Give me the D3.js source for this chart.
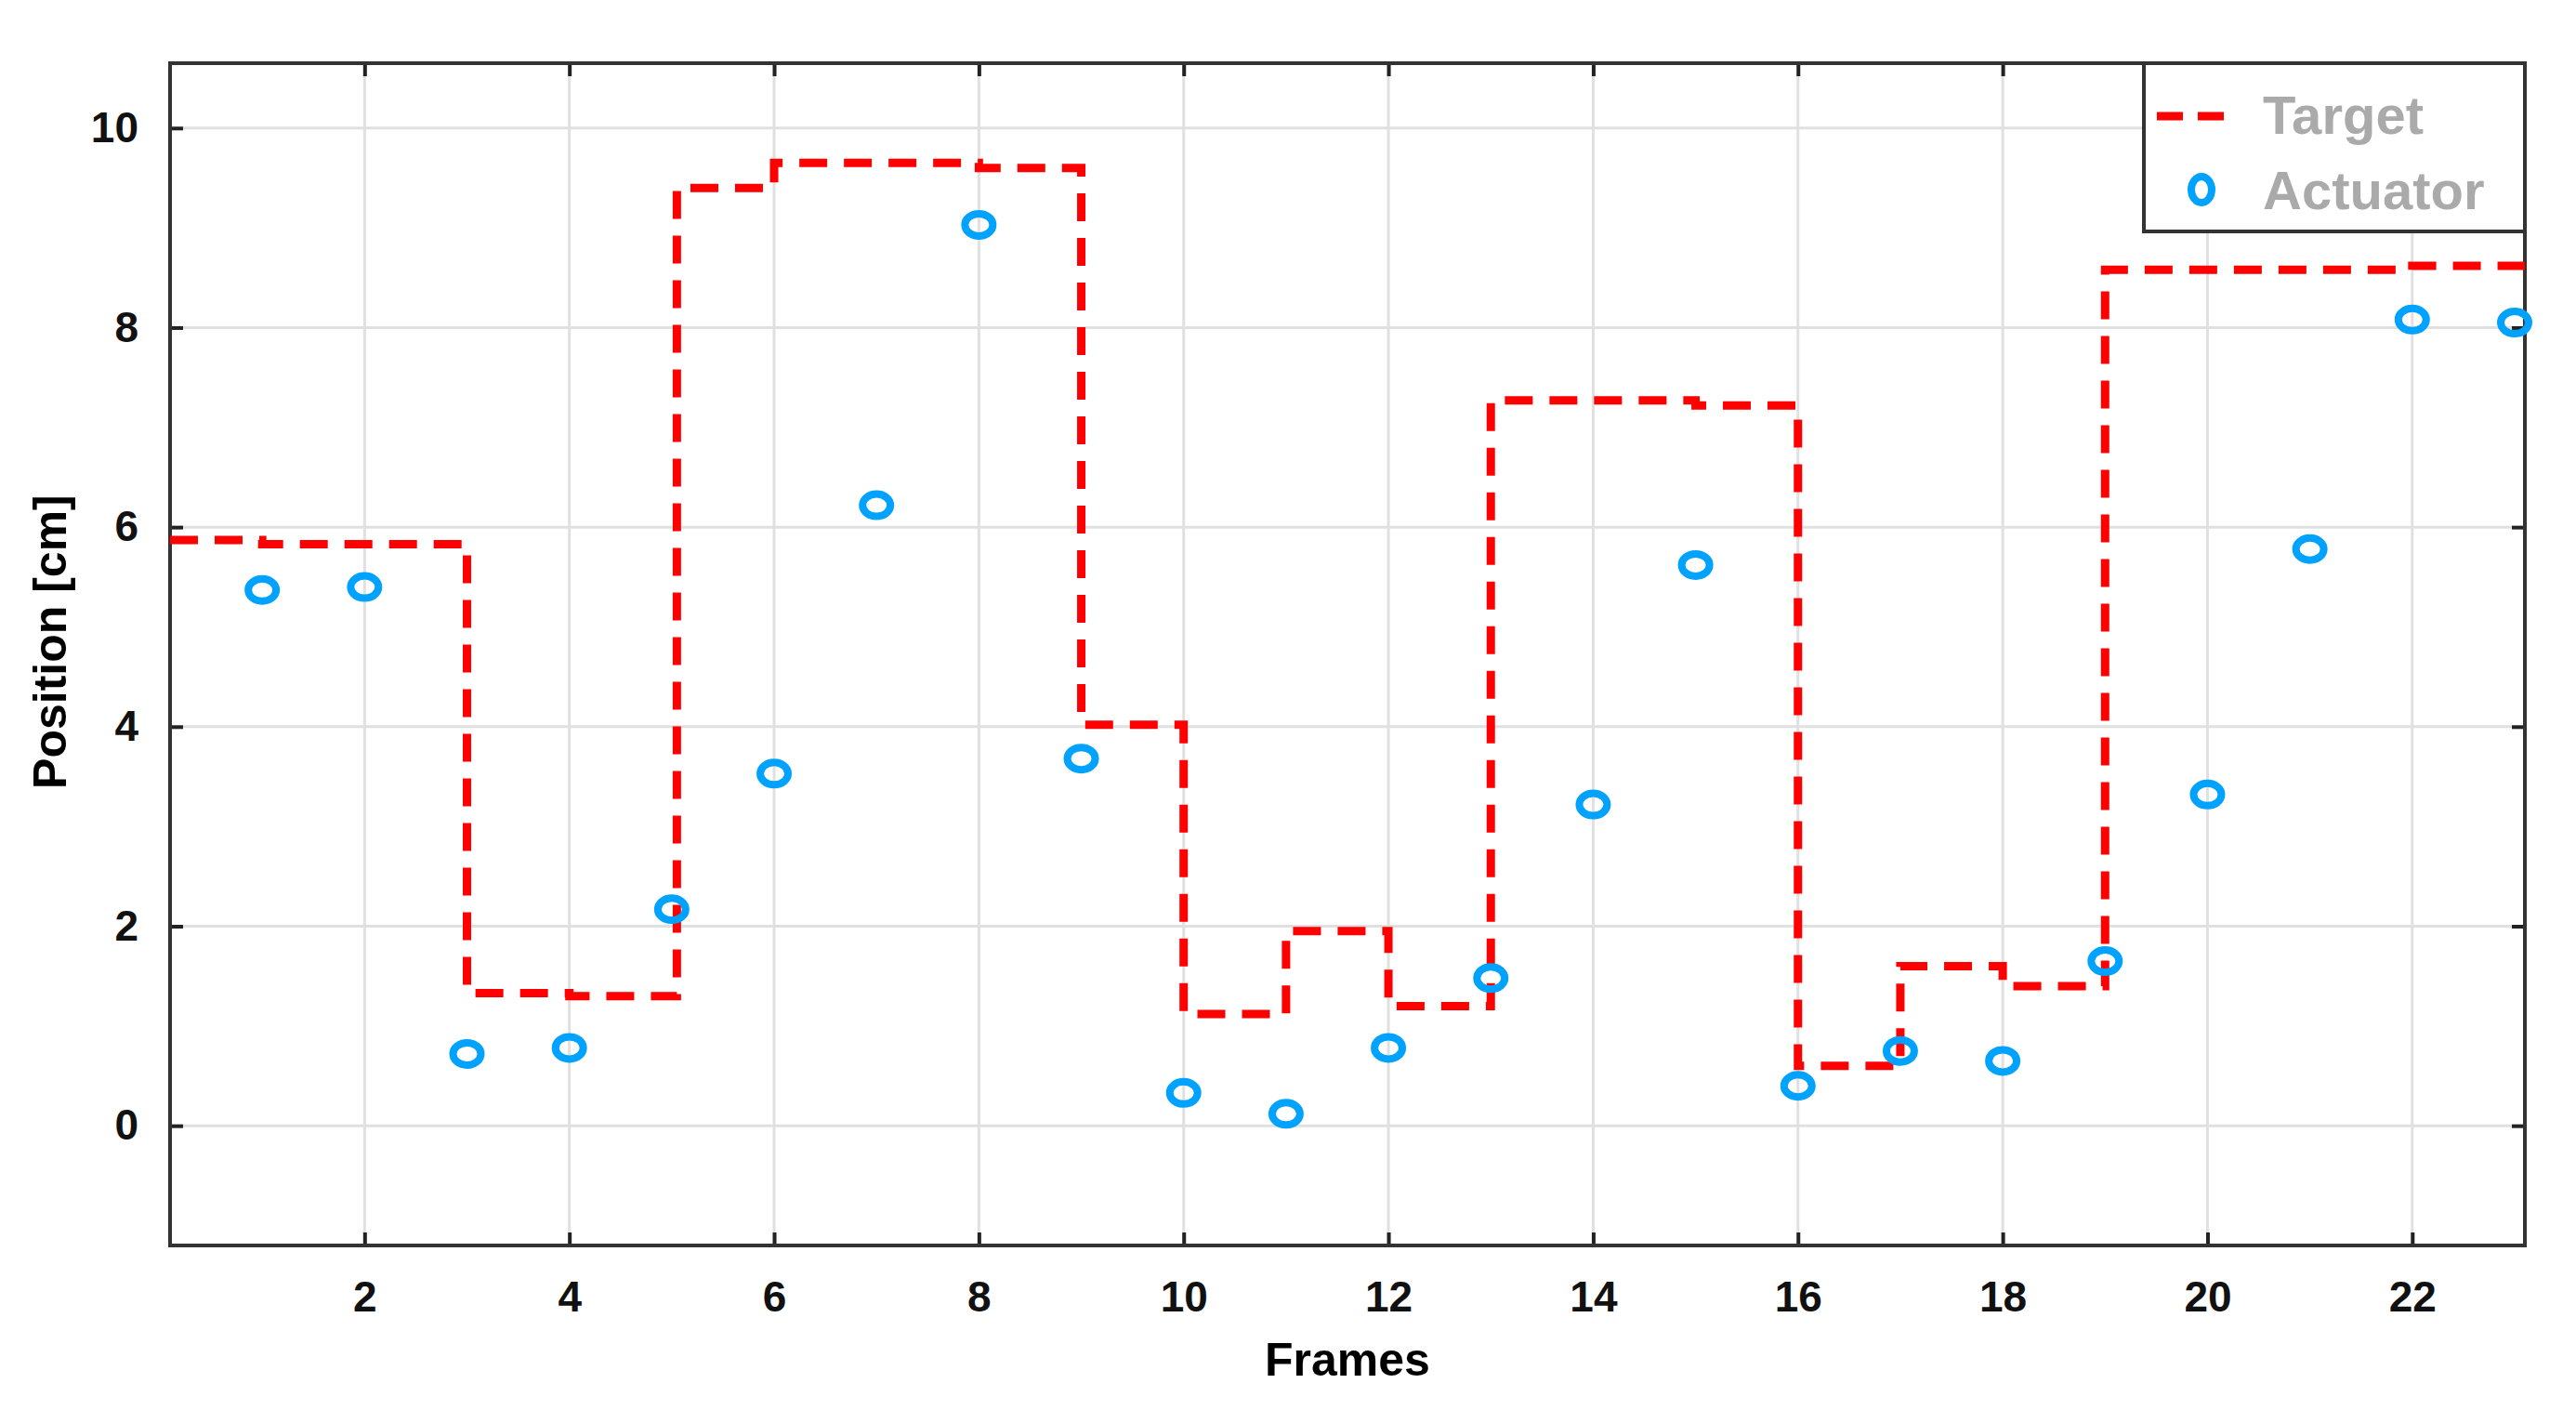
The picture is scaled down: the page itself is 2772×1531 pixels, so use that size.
<!DOCTYPE html>
<html><head><meta charset="utf-8">
<script src="https://cdn.jsdelivr.net/npm/d3@7"></script>
<style>body{margin:0;background:#fff}text{font-family:"Liberation Sans",Arial,sans-serif;font-weight:bold}</style>
</head><body><div id="chart"></div>
<script>
// target step segments: start frame and value
var stepX = [0.1, 1, 3, 4, 5.05, 6, 8, 9, 10, 11, 12, 13, 15, 16, 17, 18, 19, 22, 23.1]
var stepY = [5.87, 5.83, 1.33, 1.3, 9.4, 9.65, 9.6, 4.02, 1.12, 1.95, 1.2, 7.27, 7.22, 0.6, 1.6, 1.4, 8.58, 8.62, 8.62]
var frames = d3.range(1, 24)
var actuator = [5.37, 5.4, 0.72, 0.78, 2.17, 3.53, 6.22, 9.03, 3.68, 0.33, 0.12, 0.78, 1.48, 3.22, 5.62, 0.4, 0.75, 0.65, 1.65, 3.32, 5.78, 8.08, 8.05]
var xTicks = [2, 4, 6, 8, 10, 12, 14, 16, 18, 20, 22]
var yTicks = [0, 2, 4, 6, 8, 10]

var W = 2772, H = 1531
var margin = {top: 68, right: 55, bottom: 191, left: 183},
    width = W - margin.left - margin.right,
    height = H - margin.top - margin.bottom;

var svg = d3.select("#chart").append("svg").attr("width", W).attr("height", H)
  .append("g").attr("transform", "translate(" + margin.left + "," + margin.top + ")");

var x = d3.scaleLinear().domain([0.1, 23.1]).range([0, width])
var y = d3.scaleLinear().domain([-1.2, 10.65]).range([height, 0])

// grid
svg.selectAll(".gx").data(xTicks).enter().append("line")
  .attr("x1", d => x(d)).attr("x2", d => x(d)).attr("y1", 0).attr("y2", height)
  .attr("stroke", "#e0e0e0").attr("stroke-width", 3)
svg.selectAll(".gy").data(yTicks).enter().append("line")
  .attr("y1", d => y(d)).attr("y2", d => y(d)).attr("x1", 0).attr("x2", width)
  .attr("stroke", "#e0e0e0").attr("stroke-width", 3)

// axes
svg.append("g").attr("transform", "translate(0," + height + ")")
  .call(d3.axisBottom(x).tickValues(xTicks).tickSize(-14).tickPadding(38))
svg.append("g").call(d3.axisLeft(y).tickValues(yTicks).tickSize(-14).tickPadding(34))
svg.append("g").call(d3.axisTop(x).tickValues(xTicks).tickSize(-14).tickFormat(""))
svg.append("g").attr("transform", "translate(" + width + ",0)").call(d3.axisRight(y).tickValues(yTicks).tickSize(-14).tickFormat(""))
svg.selectAll(".domain").remove()
svg.selectAll(".tick line").attr("stroke", "#222").attr("stroke-width", 4)
svg.selectAll(".tick text").attr("font-size", 46).attr("fill", "#111")
svg.append("rect").attr("width", width).attr("height", height)
  .attr("fill", "none").attr("stroke", "#333").attr("stroke-width", 4)

// target
var line = d3.line().x(d => x(d[0])).y(d => y(d[1])).curve(d3.curveStepAfter)
svg.append("path").datum(stepX.map((v, i) => [v, stepY[i]]))
  .attr("d", line).attr("fill", "none").attr("stroke", "#ff0000")
  .attr("stroke-width", 9).attr("stroke-dasharray", "30,18")

// actuator
svg.selectAll(".pt").data(frames).enter().append("ellipse")
  .attr("cx", d => x(d)).attr("cy", (d, i) => y(actuator[i]))
  .attr("rx", 15).attr("ry", 12)
  .attr("fill", "none").attr("stroke", "#00a2ff").attr("stroke-width", 8)

// labels
svg.append("text").attr("x", width / 2).attr("y", height + 140)
  .attr("text-anchor", "middle").attr("font-size", 50).text("Frames")
svg.append("text").attr("transform", "rotate(-90)").attr("x", -y(4.85)).attr("y", -112)
  .attr("text-anchor", "middle").attr("font-size", 50).text("Position [cm]")

// legend
var lg = svg.append("g").attr("transform", "translate(" + (width - 410) + ",0)")
lg.append("rect").attr("width", 410).attr("height", 181).attr("fill", "#fff")
  .attr("stroke", "#333").attr("stroke-width", 4)
lg.append("line").attr("x1", 14).attr("x2", 100).attr("y1", 57).attr("y2", 57)
  .attr("stroke", "#ff0000").attr("stroke-width", 9).attr("stroke-dasharray", "28,16")
lg.append("ellipse").attr("cx", 62).attr("cy", 136).attr("rx", 11).attr("ry", 14)
  .attr("fill", "none").attr("stroke", "#00a2ff").attr("stroke-width", 8)
lg.append("text").attr("x", 128).attr("y", 76).attr("font-size", 58).attr("fill", "#aaa").text("Target")
lg.append("text").attr("x", 128).attr("y", 157).attr("font-size", 58).attr("fill", "#aaa").text("Actuator")
</script></body></html>
